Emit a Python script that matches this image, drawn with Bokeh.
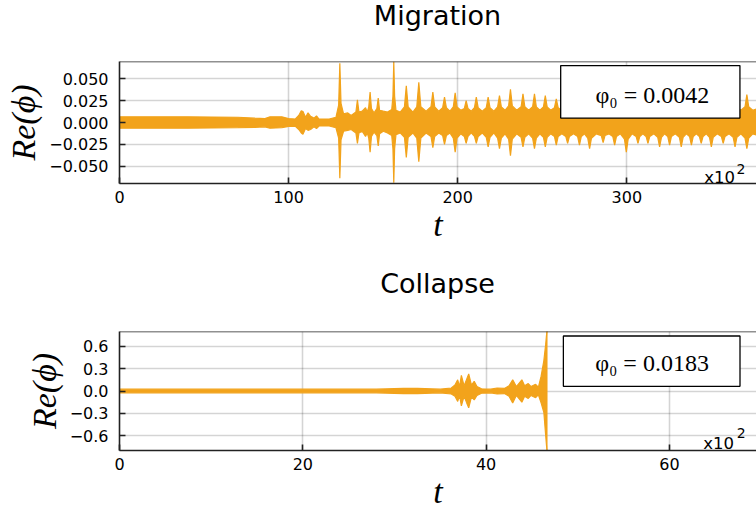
from bokeh.plotting import figure
from bokeh.layouts import column
from bokeh.models import (FixedTicker, CustomJSTickFormatter, BoxAnnotation, Span, Div,
                          Label, Range1d, ColumnDataSource)
from bokeh.embed import file_html
from bokeh.resources import INLINE

# ---------------- data (envelope of Re(phi)) ----------------
# Migration run
mig_t = [0, 40, 70, 80, 86, 89, 96, 100, 104, 106, 107.5, 108.5, 110, 111.5, 113, 115, 116.5, 118,
         124, 128, 129.6, 130.3, 131.0, 132.5, 135, 137, 139.8, 140.7, 141.6, 143.5, 145.5, 146.5,
         147.4, 148.2, 149.0, 150.5, 152.2, 153.0, 153.8, 156, 158.5, 161.0, 161.7, 162.2, 162.7,
         163.5, 166, 168.5, 169.6, 170.7, 173.5, 175.8, 177.0, 178.2,
         181.3, 184.2, 185.3, 186.4, 188.8, 191.1, 192.2, 193.3, 195.4, 197.4, 198.5, 199.6,
         201.8, 203.9, 205.0, 206.1, 208.0, 209.9, 211.0, 212.1, 214.5, 216.9, 218.0, 219.1,
         221.4, 223.6, 224.7, 225.8, 228.0, 230.1, 231.2, 232.3, 234.9, 237.5, 238.6, 239.7,
         242.0, 244.3, 245.4, 246.5, 248.6, 250.7, 251.8, 252.9, 255.0, 257.2, 258.3, 259.4,
         261.6, 263.9, 265.0, 266.1, 268.5, 270.9, 272.0, 273.1, 275.0, 276.9, 278.0, 279.1,
         282.0, 284.9, 286.0, 287.1, 289.4, 291.7, 292.8, 293.9, 296.2, 298.6, 299.7, 300.8,
         303.1, 305.5, 306.6, 307.7, 309.5, 311.4, 312.5, 313.6, 316.0, 318.3, 319.4, 320.5,
         322.3, 324.2, 325.3, 326.4, 328.7, 331.1, 332.2, 333.3, 335.2, 337.1, 338.2, 339.3,
         341.1, 342.9, 344.0, 345.1, 347.0, 348.9, 350.0, 351.1, 353.5, 355.9, 357.0, 358.1,
         360.5, 362.9, 364.0, 365.1, 367.5, 369.9, 371.0, 372.1, 374.5, 377.5]
mig_up = [0.0065, 0.0065, 0.006, 0.005, 0.0045, 0.0065, 0.0065, 0.0045, 0.004, 0.008, 0.0135, 0.0125,
          0.006, 0.011, 0.007, 0.005, 0.0075, 0.004,
          0.004, 0.006, 0.02, 0.068, 0.022, 0.01, 0.011, 0.008, 0.012, 0.026, 0.012, 0.013, 0.017, 0.012,
          0.018, 0.035, 0.016, 0.011, 0.016, 0.028, 0.014, 0.013, 0.012, 0.015, 0.03, 0.07, 0.03,
          0.014, 0.012, 0.018, 0.042, 0.018, 0.012, 0.018, 0.046, 0.018,
          0.013, 0.018, 0.035, 0.018, 0.013, 0.017, 0.029, 0.017, 0.013, 0.018, 0.034, 0.018,
          0.014, 0.016, 0.025, 0.016, 0.013, 0.017, 0.029, 0.017, 0.013, 0.017, 0.029, 0.017,
          0.013, 0.018, 0.031, 0.018, 0.014, 0.019, 0.038, 0.019, 0.014, 0.018, 0.033, 0.018,
          0.014, 0.018, 0.033, 0.018, 0.014, 0.018, 0.031, 0.018, 0.014, 0.017, 0.027, 0.017,
          0.014, 0.016, 0.025, 0.016, 0.014, 0.017, 0.027, 0.017, 0.014, 0.018, 0.030, 0.018,
          0.014, 0.016, 0.023, 0.016, 0.014, 0.017, 0.027, 0.017, 0.014, 0.019, 0.034, 0.019,
          0.014, 0.016, 0.025, 0.016, 0.014, 0.016, 0.025, 0.016, 0.014, 0.017, 0.029, 0.017,
          0.014, 0.017, 0.027, 0.017, 0.014, 0.017, 0.029, 0.017, 0.014, 0.017, 0.027, 0.017,
          0.014, 0.016, 0.025, 0.016, 0.014, 0.017, 0.029, 0.017, 0.014, 0.016, 0.025, 0.016,
          0.014, 0.017, 0.029, 0.017, 0.014, 0.018, 0.032, 0.018, 0.014, 0.016]
mig_lo = [-0.0065, -0.0065, -0.006, -0.0055, -0.005, -0.0065, -0.006, -0.0045, -0.0045, -0.008, -0.012, -0.0135,
          -0.007, -0.009, -0.008, -0.005, -0.007, -0.004,
          -0.004, -0.006, -0.018, -0.064, -0.02, -0.01, -0.009, -0.008, -0.012, -0.024, -0.012, -0.01, -0.016, -0.012,
          -0.018, -0.034, -0.016, -0.011, -0.015, -0.027, -0.013, -0.01, -0.012, -0.015, -0.03, -0.069, -0.03,
          -0.014, -0.012, -0.017, -0.04, -0.017, -0.012, -0.018, -0.045, -0.018,
          -0.012, -0.016, -0.029, -0.016, -0.012, -0.015, -0.025, -0.015, -0.012, -0.018, -0.034, -0.018,
          -0.013, -0.016, -0.024, -0.016, -0.012, -0.016, -0.024, -0.016, -0.012, -0.017, -0.028, -0.017,
          -0.012, -0.018, -0.030, -0.018, -0.013, -0.019, -0.038, -0.019, -0.013, -0.017, -0.028, -0.017,
          -0.013, -0.018, -0.030, -0.018, -0.013, -0.017, -0.028, -0.017, -0.013, -0.016, -0.026, -0.016,
          -0.013, -0.016, -0.024, -0.016, -0.013, -0.016, -0.026, -0.016, -0.013, -0.018, -0.030, -0.018,
          -0.013, -0.015, -0.023, -0.015, -0.013, -0.016, -0.026, -0.016, -0.013, -0.019, -0.034, -0.019,
          -0.013, -0.016, -0.024, -0.016, -0.013, -0.016, -0.024, -0.016, -0.013, -0.017, -0.028, -0.017,
          -0.013, -0.016, -0.026, -0.016, -0.013, -0.017, -0.028, -0.017, -0.013, -0.016, -0.026, -0.016,
          -0.013, -0.016, -0.024, -0.016, -0.013, -0.017, -0.028, -0.017, -0.013, -0.016, -0.024, -0.016,
          -0.013, -0.017, -0.028, -0.017, -0.013, -0.018, -0.030, -0.018, -0.013, -0.015]

# Collapse run
col_t = [0, 28, 31, 32.5, 35, 36.2, 36.6, 36.9, 37.1, 37.3, 37.6, 37.85, 38.1, 38.4, 38.7, 39.0, 39.5,
         40.5, 41.2, 42.0, 42.5, 42.9, 43.3, 43.9, 44.2, 44.6, 44.9, 45.4, 45.7, 46.0, 46.3, 46.5, 46.7]
col_up = [0.025, 0.025, 0.035, 0.035, 0.025, 0.04, 0.08, 0.15, 0.06, 0.21, 0.07, 0.15, 0.23, 0.08, 0.13,
          0.06, 0.03, 0.025, 0.04, 0.035, 0.07, 0.15, 0.06, 0.15, 0.07, 0.1, 0.06, 0.09, 0.05, 0.2, 0.41,
          0.63, 0.9]
col_lo = [-0.025, -0.025, -0.035, -0.035, -0.025, -0.04, -0.07, -0.14, -0.06, -0.2, -0.07, -0.15, -0.225,
          -0.08, -0.12, -0.06, -0.03, -0.025, -0.04, -0.035, -0.07, -0.16, -0.06, -0.15, -0.07, -0.1, -0.06,
          -0.09, -0.05, -0.16, -0.29, -0.6, -0.9]

titles = ["Migration", "Collapse"]
legend_texts = ["\u03c6\u2080 = 0.0042", "\u03c6\u2080 = 0.0183"]
mig_xticks = [0, 100, 200, 300]
mig_yticks = [-0.05, -0.025, 0.0, 0.025, 0.05]
col_xticks = [0, 20, 40, 60]
col_yticks = [-0.6, -0.3, 0.0, 0.3, 0.6]

ORANGE = "#f2a31b"
AX = "#222222"


def title_div(text, height):
    html = ('<div style="margin-left:119px;width:637px;text-align:center;'
            'font-family:\'DejaVu Sans\';font-size:27px;line-height:%dpx;color:black;'
            'white-space:nowrap">%s</div>' % (height, text))
    return Div(text=html, width=756, height=height, margin=(0, 0, 0, 0))


def make_panel(t, up, lo, xr, yr, xticks, yticks, ndig, height, top_b, bottom_b,
               box, leg_xy, leg_text, x10_xy, two_xy):
    p = figure(width=756, height=height, output_backend="svg", toolbar_location=None,
               x_range=Range1d(*xr), y_range=Range1d(*yr),
               min_border_left=119, min_border_right=0, min_border_top=top_b,
               min_border_bottom=bottom_b, background_fill_color="white",
               border_fill_color="white")
    p.outline_line_color = None
    xax = p.below[0]
    yax = p.left[0]

    src = ColumnDataSource(dict(t=t, up=up, lo=lo))
    p.varea(x="t", y1="lo", y2="up", source=src, fill_color=ORANGE)
    p.line(x="t", y="up", source=src, line_color=ORANGE, line_width=1.2)
    p.line(x="t", y="lo", source=src, line_color=ORANGE, line_width=1.2)

    fmt = CustomJSTickFormatter(code="""
        const s = Math.abs(tick).toFixed(%d);
        return (tick < -1e-9 ? "\\u2212" : "") + s;
    """ % ndig)

    for ax in [xax, yax]:
        ax.axis_line_color = AX
        ax.axis_line_width = 1.6
        ax.major_tick_line_color = AX
        ax.major_tick_line_width = 1.6
        ax.major_tick_in = 6
        ax.major_tick_out = 0
        ax.minor_tick_line_color = None
        ax.major_label_text_font = "DejaVu Sans"
        ax.major_label_text_font_size = "16px"
        ax.major_label_text_color = "black"
        ax.axis_label_text_font = "Liberation Serif"
        ax.axis_label_text_font_style = "italic"
        ax.axis_label_text_font_size = "34px"
        ax.axis_label_text_color = "black"

    xax.ticker = FixedTicker(ticks=xticks)
    yax.ticker = FixedTicker(ticks=yticks)
    yax.formatter = fmt
    xax.major_label_standoff = 7
    yax.major_label_standoff = 11
    xax.axis_label = "t"
    yax.axis_label = "Re(\u03d5)"
    xax.axis_label_standoff = 0
    yax.axis_label_standoff = 4

    for g in [p.xgrid[0], p.ygrid[0]]:
        g.grid_line_color = "black"
        g.grid_line_alpha = 0.17
        g.grid_line_width = 1.6
    p.xgrid[0].ticker = FixedTicker(ticks=xticks)
    p.ygrid[0].ticker = FixedTicker(ticks=yticks)

    # top edge of the frame
    p.add_layout(Span(location=yr[1], dimension="width", line_color=AX, line_width=1.6))

    p.add_layout(BoxAnnotation(left=box[0], right=box[1], bottom=box[2], top=box[3],
                               fill_color="white", fill_alpha=1.0, line_color="black",
                               line_width=1.3, line_alpha=1.0))
    p.add_layout(Label(x=leg_xy[0], y=leg_xy[1], text=leg_text, text_align="center",
                       text_baseline="alphabetic", text_font="Liberation Serif",
                       text_font_size="24px", text_color="black"))
    p.add_layout(Label(x=x10_xy[0], y=x10_xy[1], text="x10", text_align="left",
                       text_baseline="middle", text_font="DejaVu Sans",
                       text_font_size="16.5px", text_color="black"))
    p.add_layout(Label(x=two_xy[0], y=two_xy[1], text="2", text_align="left",
                       text_baseline="middle", text_font="DejaVu Sans",
                       text_font_size="14px", text_color="black"))
    return p


d1 = title_div(titles[0], 32)
p1 = make_panel(mig_t, mig_up, mig_lo, (0, 376.7), (-0.07, 0.07),
                mig_xticks, mig_yticks, 3, 224, 29, 73,
                (260.9, 366.9, 0.0051, 0.0653), (315.1, 0.0319), legend_texts[0],
                (345.8, -0.0631), (364.8, -0.0533))
d2 = title_div(titles[1], 56)
p2 = make_panel(col_t, col_up, col_lo, (0, 69.5), (-0.8, 0.8),
                col_xticks, col_yticks, 1, 200, 19, 59,
                (48.43, 67.7, 0.063, 0.7395), (58.1, 0.373), legend_texts[1],
                (63.7, -0.707), (67.35, -0.569))

layout = column(d1, p1, d2, p2, spacing=0)
open("out.html", "w").write(file_html(layout, INLINE))
